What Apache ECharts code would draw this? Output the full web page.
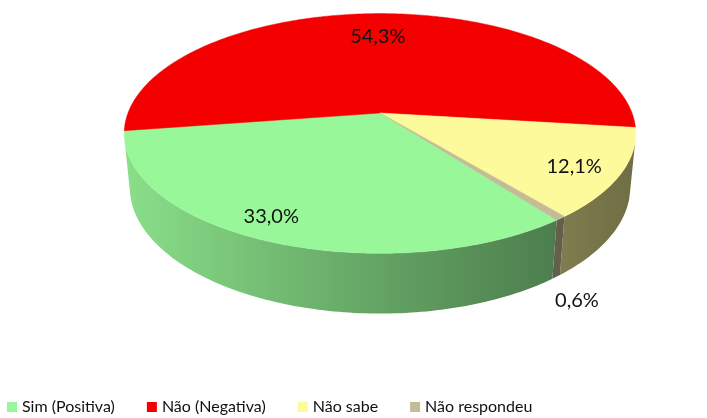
<!DOCTYPE html>
<html>
<head>
<meta charset="utf-8">
<script src="https://cdn.jsdelivr.net/npm/echarts@6/dist/echarts.min.js"></script>
<style>html,body{margin:0;padding:0;background:#fff}#c{width:707px;height:418px}</style>
</head>
<body>
<div id="c"></div>
<script>
// ---- data ----
const categories = ['Sim (Positiva)', 'Não (Negativa)', 'Não sabe', 'Não respondeu'];
const values = [33.0, 54.3, 12.1, 0.6];
const labelTexts = ['33,0%', '54,3%', '12,1%', '0,6%'];

// ---- styles ----
const palette = ['#98f798', '#f40000', '#fdfa9c', '#c4bc96'];
const FONT = 'Lato, sans-serif';

// ---- 3D projection of a tilted disc ----
const CX = 380, CY = 113;
const D = 5.2;
const ALPHA = 27.5 * Math.PI / 180;
const cA = Math.cos(ALPHA), sA = Math.sin(ALPHA);
const RX = 252;
const F = RX * D;
const H = 0.243;
const START = 307.3; // degrees, slices run clockwise (decreasing angle)

function proj(x, y, z) {
  const depth = D + y * cA - z * sA;
  const up = y * sA + z * cA;
  return [CX + x * F / depth, CY - up * F / depth];
}
function pt(phiDeg, r, z) {
  const p = phiDeg * Math.PI / 180;
  return proj(r * Math.cos(p), r * Math.sin(p), z);
}
function shade(hex, f) {
  const n = parseInt(hex.slice(1), 16);
  const r = Math.round(((n >> 16) & 255) * f);
  const g = Math.round(((n >> 8) & 255) * f);
  const b = Math.round((n & 255) * f);
  return 'rgb(' + r + ',' + g + ',' + b + ')';
}
const total = values.reduce((a, b) => a + b, 0);
// wall faces camera when 1 + D*cos(alpha)*sin(phi) < 0
const SIL = -1 / (D * cA);

function renderSlice(params, api) {
  const i = params.seriesIndex;
  let before = 0;
  for (let k = 0; k < i; k++) before += values[k];
  const a0 = START - 360 * before / total;
  const a1 = a0 - 360 * api.value(0) / total;
  const col = palette[i];
  const samples = [a0];
  for (let d = Math.floor(a0); d > a1; d--) { if (d < a0) samples.push(d); }
  samples.push(a1);
  const children = [];
  // outer wall (camera-facing part)
  let run = [];
  const runs = [];
  samples.forEach(function (a) {
    const s = Math.sin(a * Math.PI / 180);
    if (s <= SIL) run.push(a);
    else { if (run.length > 1) runs.push(run); run = []; }
  });
  if (run.length > 1) runs.push(run);
  runs.forEach(function (rn) {
    const top = rn.map(a => pt(a, 1, 0));
    const bot = rn.map(a => pt(a, 1, -H)).reverse();
    children.push({
      type: 'polygon',
      z2: 1,
      shape: { points: top.concat(bot) },
      style: {
        fill: new echarts.graphic.LinearGradient(CX - RX, 0, CX + RX, 0, [
          { offset: 0, color: shade(col, 0.9) },
          { offset: 0.5, color: shade(col, 0.66) },
          { offset: 1, color: shade(col, 0.44) }
        ], true),
        stroke: null
      }
    });
  });
  // top face
  const topPts = [proj(0, 0, 0)].concat(samples.map(a => pt(a, 1, 0)));
  children.push({
    type: 'polygon',
    z2: 10,
    shape: { points: topPts },
    style: { fill: col, stroke: col, lineWidth: 0.5 }
  });
  // label
  const mid = (a0 + a1) / 2;
  const frac = api.value(0) / total;
  let lp;
  if (frac < 0.02) {
    lp = pt(mid, 1.12, -H);
    lp = [lp[0] - 4, lp[1] + 8];
  } else {
    const sm = Math.sin(mid * Math.PI / 180);
    const r = 0.80 - 0.065 * sm;
    const m2 = mid + 4 * Math.min(0, sm);
    lp = pt(m2, r, 0);
  }
  children.push({
    type: 'text',
    z2: 100,
    x: lp[0], y: lp[1],
    style: {
      text: labelTexts[i],
      fill: '#111',
      font: '20px ' + FONT,
      align: 'center',
      verticalAlign: 'middle'
    }
  });
  return { type: 'group', children: children };
}

const chart = echarts.init(document.getElementById('c'), null, { renderer: 'canvas' });
chart.setOption({
  animation: false,
  backgroundColor: '#fff',
  legend: {
    data: categories,
    left: 2,
    top: 394,
    padding: 5,
    icon: 'rect',
    itemWidth: 10,
    itemHeight: 10,
    itemGap: 32,
    textStyle: { fontFamily: FONT, fontSize: 16, color: '#111' }
  },
  series: categories.map(function (name, i) {
    return {
      type: 'custom',
      name: name,
      coordinateSystem: 'none',
      itemStyle: { color: palette[i] },
      renderItem: renderSlice,
      data: [values[i]]
    };
  })
});
</script>
</body>
</html>
